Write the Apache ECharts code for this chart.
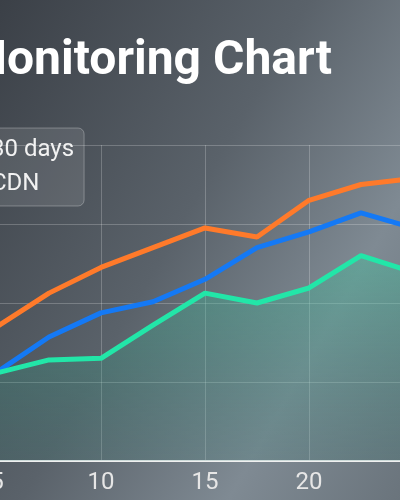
<!DOCTYPE html>
<html>
<head>
<meta charset="utf-8">
<script src="https://cdn.jsdelivr.net/npm/echarts@6/dist/echarts.min.js"></script>
<style>
  html, body { margin: 0; padding: 0; overflow: hidden; width: 400px; height: 500px;
    background: linear-gradient(120deg, #3b4047 0%, #5a626a 45%, #7f8a93 75%, #6a747c 100%); }
  #chart { position: absolute; left: -200px; top: 0; width: 760px; height: 500px; }
</style>
</head>
<body>
<div id="chart"></div>
<script>
// 监控图表（视口只显示局部）
var days = [5, 7.5, 10, 12.5, 15, 17.5, 20, 22.5, 25, 27.5];
var origin = [34, 42.5, 49, 54, 59, 56.7, 66, 70, 71.5, 70];
var cdn = [22.5, 31.4, 37.5, 40.3, 46, 54, 58, 62.8, 59, 57];
var edge = [22.3, 25.6, 26, 34.4, 42.5, 40, 43.8, 52, 47.8, 46];
var xTicks = { min: 0, max: 30, interval: 5 };
var yTicks = { min: 0, max: 80, interval: 20 };

function pairs(ys) {
  return days.map(function (d, i) { return [d, ys[i]]; });
}

var chart = echarts.init(document.getElementById('chart'));
chart.setOption({
  backgroundColor: 'transparent',
  textStyle: { fontFamily: 'Roboto' },
  title: {
    text: 'Monitoring Chart',
    left: 160,
    top: 33,
    textStyle: { color: '#ffffff', fontSize: 48, fontWeight: 'bold', fontFamily: 'Roboto' }
  },
  legend: {
    orient: 'vertical',
    left: 150,
    top: 128,
    padding: [10, 10, 10, 10],
    itemGap: 10,
    itemWidth: 25,
    itemHeight: 12,
    backgroundColor: 'rgba(255,255,255,0.1)',
    borderColor: 'rgba(255,255,255,0.28)',
    borderWidth: 1,
    borderRadius: 6,
    textStyle: { color: '#f2f2f2', fontSize: 24 },
    data: ['30 days', 'CDN']
  },
  grid: { left: 93, right: 43, top: 145, bottom: 39 },
  xAxis: {
    type: 'value',
    min: xTicks.min, max: xTicks.max, interval: xTicks.interval,
    axisLine: { lineStyle: { color: '#f0f0f0', width: 2 } },
    axisTick: { show: false },
    axisLabel: { color: '#e6e6e6', fontSize: 24, margin: 10 },
    splitLine: { lineStyle: { color: 'rgba(255,255,255,0.22)' } }
  },
  yAxis: {
    type: 'value',
    min: yTicks.min, max: yTicks.max, interval: yTicks.interval,
    axisLine: { show: false },
    axisTick: { show: false },
    axisLabel: { show: false },
    splitLine: { lineStyle: { color: 'rgba(255,255,255,0.22)' } }
  },
  series: [{
    name: '30 days',
    type: 'line',
    data: pairs(origin),
    symbol: 'none',
    lineStyle: { color: '#ff7a2a', width: 5 },
    itemStyle: { color: '#ff7a2a' }
  }, {
    name: 'CDN',
    type: 'line',
    data: pairs(cdn),
    symbol: 'none',
    lineStyle: { color: '#1479f5', width: 5 },
    itemStyle: { color: '#1479f5' }
  }, {
    name: 'Edge',
    type: 'line',
    data: pairs(edge),
    symbol: 'none',
    lineStyle: { color: '#22e6a8', width: 5 },
    itemStyle: { color: '#22e6a8' },
    areaStyle: {
      color: new echarts.graphic.LinearGradient(0, 0, 0, 1, [
        { offset: 0, color: 'rgba(60,200,160,0.55)' },
        { offset: 1, color: 'rgba(40,120,110,0.25)' }
      ])
    }
  }]
});
</script>
</body>
</html>
